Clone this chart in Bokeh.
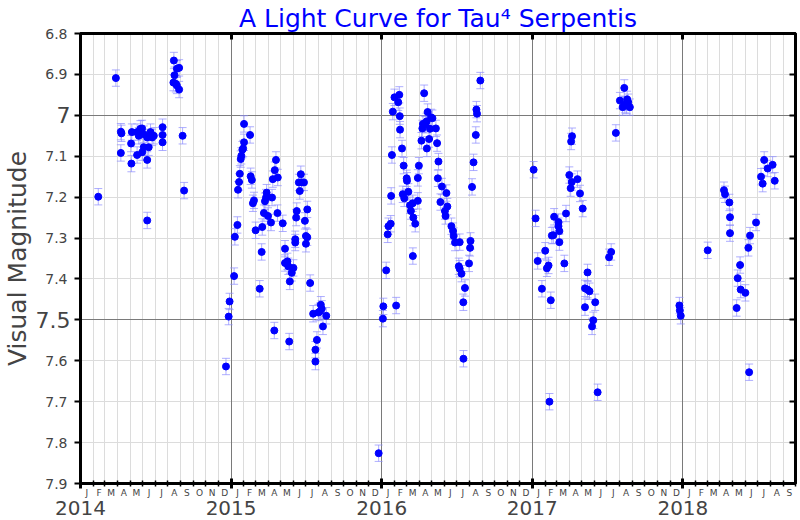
import datetime as dt
import numpy as np
from bokeh.plotting import figure
from bokeh.models import (Range1d, FixedTicker, Grid, Whisker, TeeHead, ColumnDataSource,
                          LinearAxis, CustomJSTickFormatter)
from bokeh.embed import file_html
from bokeh.resources import INLINE

# ---- data: observation time (decimal year) and visual magnitude, per season ----
t_2014 = [2014.118, 2014.235, 2014.268, 2014.272, 2014.268, 2014.338, 2014.336, 2014.341,
          2014.376, 2014.398, 2014.409, 2014.387, 2014.420, 2014.443, 2014.465, 2014.476,
          2014.487, 2014.376, 2014.410, 2014.420, 2014.453, 2014.443, 2014.545, 2014.545,
          2014.545, 2014.678, 2014.688, 2014.443, 2014.620, 2014.624, 2014.640, 2014.655,
          2014.617, 2014.633, 2014.640, 2014.655]
m_2014 = [7.199, 6.909, 7.040, 7.044, 7.092, 7.118, 7.069, 7.041,
          7.041, 7.033, 7.032, 7.050, 7.046, 7.054, 7.041, 7.054,
          7.050, 7.097, 7.090, 7.078, 7.078, 7.109, 7.029, 7.048,
          7.066, 7.050, 7.184, 7.257, 6.866, 6.902, 6.886, 6.884,
          6.920, 6.923, 6.927, 6.937]

t_2015 = [2014.966, 2014.984, 2014.990, 2015.020, 2015.025, 2015.042, 2015.046, 2015.053,
          2015.058, 2015.064, 2015.068, 2015.075, 2015.080, 2015.086, 2015.086, 2015.126,
          2015.130, 2015.138, 2015.145, 2015.152, 2015.163, 2015.190, 2015.203, 2015.207,
          2015.218, 2015.225, 2015.236, 2015.232, 2015.245, 2015.265, 2015.272, 2015.287,
          2015.277, 2015.290, 2015.298, 2015.310, 2015.308, 2015.343, 2015.358, 2015.358,
          2015.374, 2015.380, 2015.390, 2015.386, 2015.403, 2015.414, 2015.426, 2015.426,
          2015.432, 2015.436, 2015.450, 2015.456, 2015.463, 2015.469, 2015.484, 2015.490,
          2015.497, 2015.506, 2015.497, 2015.506, 2015.525, 2015.545, 2015.560, 2015.560,
          2015.570, 2015.580, 2015.591, 2015.596, 2015.602, 2015.610, 2015.632]
m_2015 = [7.614, 7.492, 7.455, 7.393, 7.297, 7.268, 7.182, 7.163,
          7.143, 7.107, 7.099, 7.084, 7.081, 7.066, 7.021, 7.048,
          7.149, 7.158, 7.215, 7.208, 7.281, 7.424, 7.334, 7.273,
          7.239, 7.210, 7.189, 7.201, 7.246, 7.262, 7.201, 7.526,
          7.156, 7.134, 7.109, 7.152, 7.239, 7.264, 7.326, 7.361,
          7.357, 7.369, 7.406, 7.553, 7.385, 7.373, 7.303, 7.311,
          7.250, 7.234, 7.164, 7.185, 7.144, 7.164, 7.164, 7.258,
          7.295, 7.230, 7.314, 7.298, 7.410, 7.485, 7.573, 7.602,
          7.549, 7.482, 7.479, 7.463, 7.473, 7.516, 7.490]

t_2016 = [2015.980, 2016.008, 2016.011, 2016.030, 2016.040, 2016.045, 2016.060, 2016.063,
          2016.068, 2016.074, 2016.085, 2016.096, 2016.110, 2016.117, 2016.120, 2016.122,
          2016.135, 2016.146, 2016.140, 2016.150, 2016.166, 2016.168, 2016.177, 2016.188,
          2016.194, 2016.206, 2016.210, 2016.223, 2016.207, 2016.240, 2016.240, 2016.247,
          2016.264, 2016.270, 2016.274, 2016.282, 2016.290, 2016.298, 2016.300, 2016.305,
          2016.315, 2016.321, 2016.328, 2016.337, 2016.360, 2016.368, 2016.377, 2016.373,
          2016.390, 2016.400, 2016.430, 2016.436, 2016.420, 2016.424, 2016.463, 2016.474,
          2016.478, 2016.487, 2016.518, 2016.512, 2016.518, 2016.530, 2016.553, 2016.542,
          2016.543, 2016.580, 2016.587, 2016.590, 2016.600, 2016.610, 2016.625, 2016.629,
          2016.633, 2016.655]
m_2016 = [7.826, 7.497, 7.467, 7.379, 7.291, 7.271, 7.265, 7.197,
          7.097, 6.991, 6.956, 7.465, 6.968, 6.950, 7.002, 7.035,
          7.081, 7.123, 7.193, 7.203, 7.154, 7.160, 7.187, 7.220,
          7.234, 7.215, 7.250, 7.265, 7.344, 7.209, 7.153, 7.123,
          7.062, 7.032, 7.021, 6.946, 7.023, 7.015, 7.081, 6.992,
          7.058, 7.033, 7.005, 7.007, 7.032, 7.068, 7.113, 7.154,
          7.212, 7.174, 7.190, 7.223, 7.234, 7.246, 7.271, 7.283,
          7.295, 7.311, 7.310, 7.369, 7.375, 7.387, 7.422, 7.457,
          7.595, 7.362, 7.324, 7.307, 7.175, 7.115, 7.048, 6.986,
          6.996, 6.915]

t_2017 = [2017.009, 2017.022, 2017.036, 2017.064, 2017.086, 2017.097, 2017.108, 2017.123,
          2017.114, 2017.130, 2017.140, 2017.145, 2017.174, 2017.174, 2017.180, 2017.180,
          2017.213, 2017.224, 2017.246, 2017.255, 2017.262, 2017.258, 2017.264, 2017.300,
          2017.317, 2017.335, 2017.350, 2017.367, 2017.367, 2017.380, 2017.350, 2017.405,
          2017.397, 2017.418, 2017.434, 2017.510, 2017.524, 2017.555, 2017.582, 2017.611,
          2017.600, 2017.615, 2017.630, 2017.626, 2017.648, 2017.637]
m_2017 = [7.133, 7.252, 7.356, 7.424, 7.331, 7.374, 7.367, 7.452,
          7.700, 7.294, 7.293, 7.248, 7.261, 7.271, 7.283, 7.310,
          7.362, 7.240, 7.146, 7.178, 7.163, 7.064, 7.051, 7.156,
          7.191, 7.228, 7.423, 7.384, 7.426, 7.430, 7.469, 7.501,
          7.516, 7.457, 7.677, 7.347, 7.334, 7.043, 6.964, 6.933,
          6.980, 6.974, 6.961, 6.976, 6.980, 6.968]

t_2018 = [2017.977, 2017.980, 2017.986, 2018.165, 2018.273, 2018.280, 2018.309, 2018.313,
          2018.313, 2018.357, 2018.364, 2018.380, 2018.384, 2018.415, 2018.440, 2018.435,
          2018.446, 2018.486, 2018.519, 2018.530, 2018.540, 2018.563, 2018.596, 2018.610]
m_2018 = [7.465, 7.477, 7.490, 7.330, 7.183, 7.193, 7.213, 7.249,
          7.288, 7.471, 7.398, 7.366, 7.426, 7.434, 7.628, 7.324,
          7.294, 7.262, 7.150, 7.167, 7.109, 7.130, 7.121, 7.160]

mag_err = 0.02
y_ticks = [6.8, 6.9, 7.0, 7.1, 7.2, 7.3, 7.4, 7.5, 7.6, 7.7, 7.8, 7.9]
big_y_ticks = [7.0, 7.5]
small_y_ticks = [v for v in y_ticks if v not in big_y_ticks]
year_ticks = [2014, 2015, 2016, 2017, 2018]

# ---- month boundaries as decimal years ----
def dec_year(y, mo):
    start = dt.date(y, 1, 1)
    end = dt.date(y + 1, 1, 1)
    return y + (dt.date(y, mo, 1) - start).days / (end - start).days

bounds = []
for y in range(2014, 2019):
    for mo in range(1, 13):
        if y == 2018 and mo > 10:
            break
        bounds.append(round(dec_year(y, mo), 5))
mids = [round((a + b) / 2, 5) for a, b in zip(bounds[:-1], bounds[1:])]

t = np.array(t_2014 + t_2015 + t_2016 + t_2017 + t_2018)
m = np.array(m_2014 + m_2015 + m_2016 + m_2017 + m_2018)
src = ColumnDataSource(dict(t=t, m=m, lo=m - mag_err, hi=m + mag_err))

FONT = "DejaVu Sans"
EMPTY = CustomJSTickFormatter(code="return '';")
p = figure(width=800, height=520, output_backend="svg", toolbar_location=None,
           x_range=Range1d(bounds[0], bounds[-1]), y_range=Range1d(7.9, 6.8),
           x_axis_type=None, y_axis_type=None,
           min_border_left=80, min_border_right=5, min_border_top=0, min_border_bottom=37)
p.background_fill_color = "white"
p.border_fill_color = "white"
p.outline_line_color = "black"
p.outline_line_width = 3

p.title.text = "A Light Curve for Tau\u2074 Serpentis"
p.title.align = "center"
p.title.text_color = "#0000ff"
p.title.text_font = FONT
p.title.text_font_size = "25px"
p.title.text_font_style = "normal"
p.title.standoff = 2

# grids
p.add_layout(Grid(dimension=0, ticker=FixedTicker(ticks=bounds), grid_line_color="#dcdcdc"))
p.add_layout(Grid(dimension=1, ticker=FixedTicker(ticks=y_ticks), grid_line_color="#dcdcdc"))
p.add_layout(Grid(dimension=0, ticker=FixedTicker(ticks=year_ticks[1:]), grid_line_color="#7a7a7a"))
p.add_layout(Grid(dimension=1, ticker=FixedTicker(ticks=big_y_ticks), grid_line_color="#7a7a7a"))

# inner y axis: all ticks, large labels only at 7 and 7.5
yax_big = LinearAxis(ticker=FixedTicker(ticks=y_ticks),
                     formatter=CustomJSTickFormatter(code="""
                        if (Math.abs(tick-7.0)<1e-6) return '7';
                        if (Math.abs(tick-7.5)<1e-6) return '7.5';
                        return '';"""),
                     major_label_text_font=FONT, major_label_text_font_size="22px",
                     major_label_standoff=4,
                     major_tick_out=6, major_tick_in=0, minor_tick_out=0, minor_tick_in=0,
                     axis_line_width=3, major_tick_line_width=2)
p.add_layout(yax_big, "left")

# outer y axis: small labels pulled back next to the ticks, plus the axis title
yax_small = LinearAxis(ticker=FixedTicker(ticks=small_y_ticks),
                       formatter=CustomJSTickFormatter(code="return tick.toFixed(1);"),
                       axis_label="Visual Magnitude", axis_label_text_font=FONT,
                       axis_label_text_font_size="25px", axis_label_text_font_style="normal",
                       axis_label_standoff=10,
                       major_label_text_font=FONT, major_label_text_font_size="14px",
                       major_label_standoff=-35,
                       axis_line_color=None, major_tick_line_color=None,
                       minor_tick_line_color=None, major_tick_out=0, major_tick_in=0)
p.add_layout(yax_small, "left")

# right axis: inward ticks only
rax = LinearAxis(ticker=FixedTicker(ticks=y_ticks), formatter=EMPTY,
                 major_tick_out=0, major_tick_in=6, minor_tick_out=0, minor_tick_in=0,
                 major_label_standoff=0, axis_line_width=3, major_tick_line_width=2)
p.add_layout(rax, "right")

# top axis: inward year ticks only
tax = LinearAxis(ticker=FixedTicker(ticks=year_ticks[1:]), formatter=EMPTY,
                 major_tick_out=0, major_tick_in=6, minor_tick_out=0, minor_tick_in=0,
                 major_label_standoff=0, axis_line_width=3, major_tick_line_width=3)
p.add_layout(tax, "above")

# bottom axis line: year ticks (major) and month boundary ticks (minor), no labels
bax = LinearAxis(ticker=FixedTicker(ticks=year_ticks, minor_ticks=bounds), formatter=EMPTY,
                 major_tick_out=5, major_tick_in=5, minor_tick_out=3, minor_tick_in=3,
                 major_tick_line_width=3, minor_tick_line_width=1.5,
                 minor_tick_line_color="black", major_label_standoff=0, axis_line_width=3)
p.add_layout(bax, "below")

# month letters, centred in each month
xax = LinearAxis(ticker=FixedTicker(ticks=mids),
                 formatter=CustomJSTickFormatter(code="""
                    const L = 'JFMAMJJASOND';
                    const y = Math.floor(tick);
                    const leap = (y % 4 == 0) ? 366 : 365;
                    const d = (tick - y) * leap;
                    const cum = [0,31,59,90,120,151,181,212,243,273,304,334,365];
                    let i = 0;
                    for (let k = 0; k < 12; k++) { const c = cum[k] + ((k>=2 && leap==366) ? 1 : 0); if (d >= c) i = k; }
                    return L[i];"""),
                 axis_line_color=None, major_tick_line_color=None, minor_tick_line_color=None,
                 major_tick_out=0, major_tick_in=0, minor_tick_out=0, minor_tick_in=0,
                 major_label_text_font=FONT, major_label_text_font_size="9px",
                 major_label_standoff=-1)
p.add_layout(xax, "below")

# year labels
yrax = LinearAxis(ticker=FixedTicker(ticks=year_ticks),
                  formatter=CustomJSTickFormatter(code="return tick.toFixed(0);"),
                  axis_line_color=None, major_tick_line_color=None, minor_tick_line_color=None,
                  major_tick_out=0, major_tick_in=0, minor_tick_out=0, minor_tick_in=0,
                  major_label_text_font=FONT, major_label_text_font_size="20px",
                  major_label_standoff=0)
p.add_layout(yrax, "below")

# error bars and points
w = Whisker(source=src, base="t", lower="lo", upper="hi", dimension="height",
            line_color="#8c8cff", line_alpha=0.7, line_width=1,
            upper_head=TeeHead(size=8, line_color="#8c8cff", line_alpha=0.7),
            lower_head=TeeHead(size=8, line_color="#8c8cff", line_alpha=0.7))
p.add_layout(w)
p.scatter("t", "m", source=src, size=7, color="#0000ff")

open("out.html", "w").write(file_html(p, INLINE))
